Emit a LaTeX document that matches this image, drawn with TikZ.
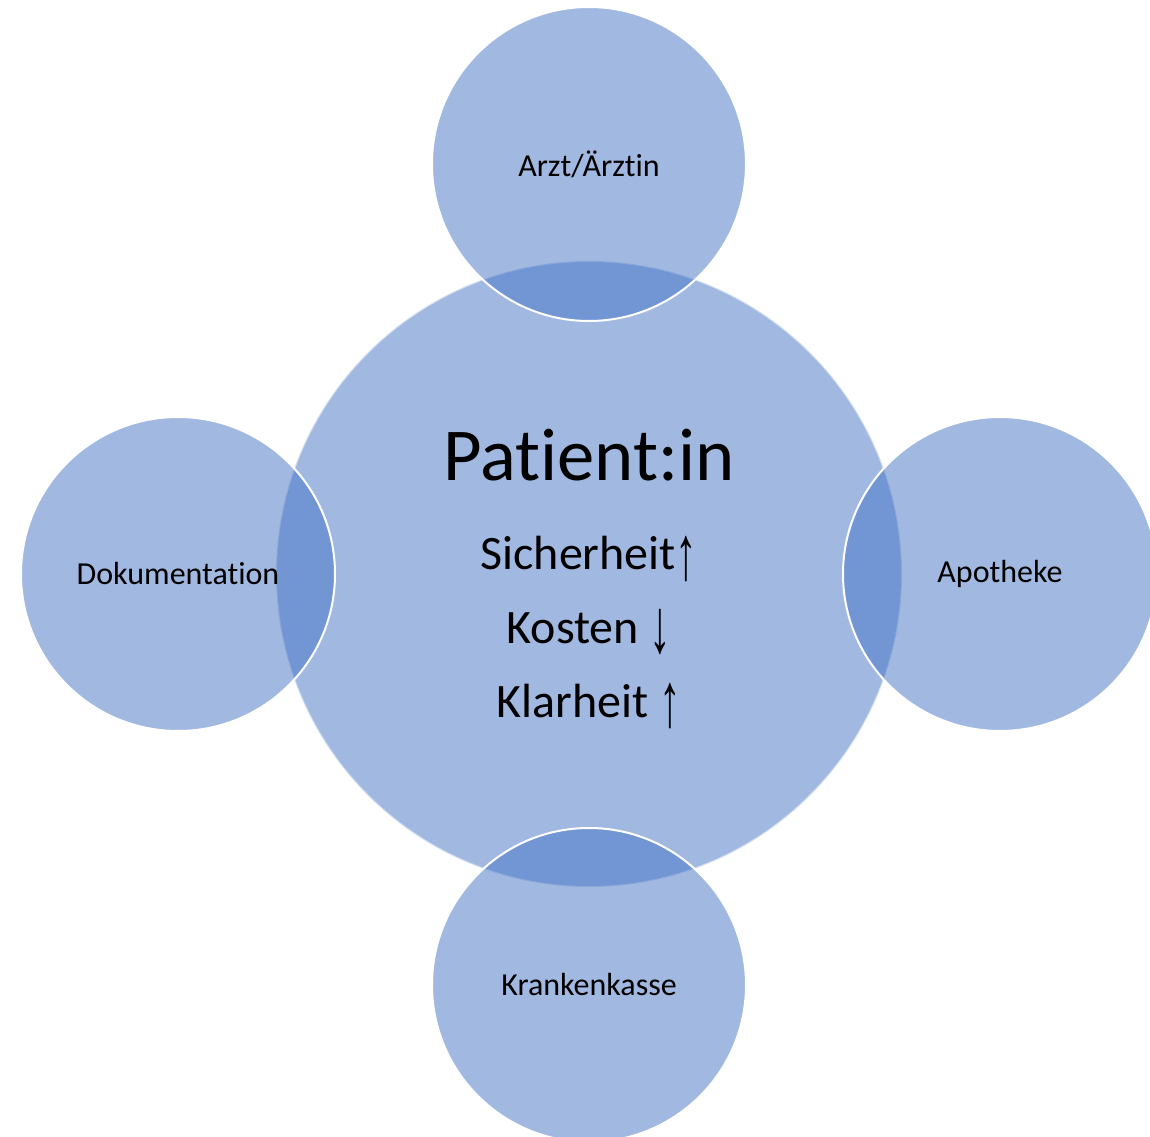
\documentclass[tikz,border=0pt]{standalone}
\usepackage{graphicx}
\usepackage{fontspec}
\setmainfont[Ligatures={NoCommon,NoRequired,NoContextual}]{Carlito}
\newfontfamily\arrowfont{Liberation Sans}
\newcommand{\uparr}{{\arrowfont\raisebox{-0.2em}{\scalebox{0.9}[1.6]{↑}}}}
\newcommand{\downarr}{{\arrowfont\raisebox{-0.2em}{\scalebox{0.9}[1.6]{↓}}}}
\definecolor{cblue}{HTML}{4472C4}
\begin{document}
\begin{tikzpicture}[x=0.75pt,y=-0.75pt,
  bubble/.style={fill=cblue,fill opacity=0.5,draw=white,line width=1.5pt},
  lbl/.style={font=\fontsize{24}{28}\selectfont,text=black,inner sep=0pt},
  big/.style={font=\fontsize{56}{60}\selectfont,text=black,inner sep=0pt,anchor=base},
  mid/.style={font=\fontsize{36}{40}\selectfont,text=black,inner sep=0pt,anchor=base}]
\useasboundingbox (0,0) rectangle (1150,1137);
\clip (0,0) rectangle (1150,1137);
\fill[cblue,fill opacity=0.5] (589,574) circle[radius=313];
\draw[white,draw opacity=0.5,line width=1.5pt] (589,574) circle[radius=313];
\coordinate (cC) at (589,574);
\coordinate (cT) at (589,164);
\coordinate (cB) at (589,985);
\coordinate (cL) at (178,574);
\coordinate (cR) at (1000,574);
\path[bubble] (cT) circle[radius=157];
\path[bubble] (cB) circle[radius=157];
\path[bubble] (cL) circle[radius=157];
\path[bubble] (cR) circle[radius=157];
\node[lbl] (t) at (cT) {Arzt/Ärztin};
\node[lbl] (b) at (cB) {Krankenkasse};
\node[lbl] (l) at (cL) {Dokumentation};
\node[lbl] (r) at (cR) {Apotheke};
\node[big] (p) at (589,481) {Patient:in};
\node[mid] (s) at (589,570) {Sicherheit\uparr};
\node[mid] (k) at (589,643) {Kosten \downarr};
\node[mid] (kl) at (589,717) {Klarheit \uparr};
\end{tikzpicture}
\end{document}
